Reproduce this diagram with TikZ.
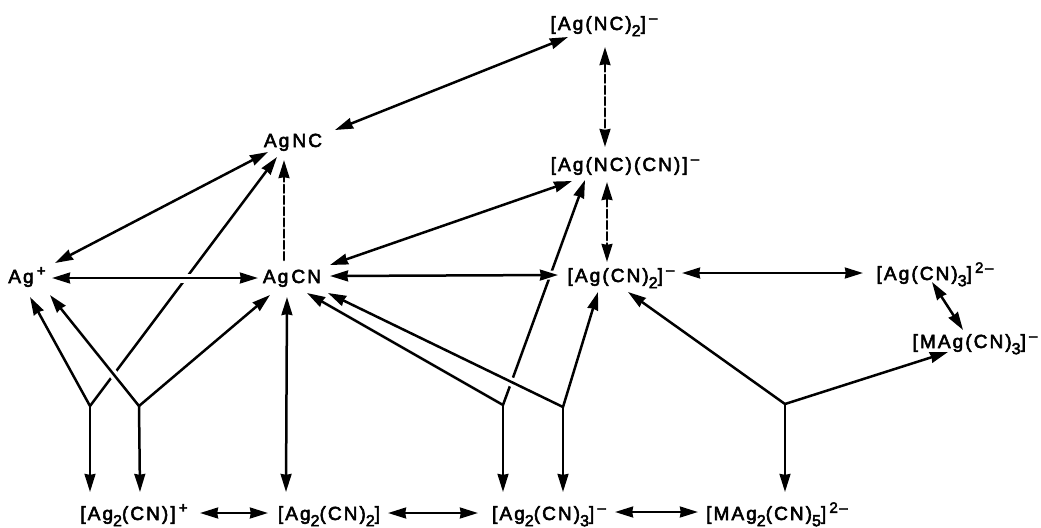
\documentclass[tikz,border=0pt]{standalone}
\usepackage{fontspec}
\newfontfamily\chemfont[LetterSpace=11,FakeBold=3]{Liberation Sans}
\usetikzlibrary{arrows.meta}
% sub- and superscripts for the formulae
\newcommand\lo[1]{\raisebox{-3.1pt}{\fontsize{8}{9}\selectfont #1}}
\newcommand\hi[1]{\,\raisebox{3.6pt}{\fontsize{7.5}{9}\selectfont #1}}

\begin{document}
\begin{tikzpicture}[x=0.5pt,y=-0.5pt,
  >={Stealth[length=9pt,width=5.4pt,inset=0.4pt]},
  species/.style={inner sep=0pt,anchor=base,font=\chemfont\fontsize{9.5}{11}\selectfont},
  link/.style={line width=1.25pt,line cap=round},
  twoway/.style={link,<->},
  oneway/.style={link,->},
  guess/.style={dash pattern=on 4pt off 1.6pt},
  over/.style={preaction={draw=white,line width=4.5pt,arrows=-,line cap=butt,
      shorten <=10pt,shorten >=#1}},
  over/.default=10pt,
]
\useasboundingbox (0,0) rectangle (1041,527);

% species
\node[species] (agp)     at (27,283)  {Ag\hi{+}};
\node[species] (agcn)    at (292,283) {Ag\,CN};
\node[species] (agnc)    at (293,147) {Ag\,NC};
\node[species] (agnc2)   at (604,30)  {[Ag(NC)\lo{2}]\hi{–}};
\node[species] (agnccn)  at (625,171) {[Ag(NC)(CN)]\hi{–}};
\node[species] (agcn2)   at (621,282) {[Ag(CN)\lo{2}]\hi{–}};
\node[species] (agcn3)   at (935,280) {[Ag(CN)\lo{3}]\hi{2–}};
\node[species] (magcn3)  at (975,348) {[MAg(CN)\lo{3}]\hi{–}};
\node[species] (ag2cn)   at (134,520) {[Ag\lo{2}(CN)]\hi{+}};
\node[species] (ag2cn2)  at (329,520) {[Ag\lo{2}(CN)\lo{2}]};
\node[species] (ag2cn3)  at (549,520) {[Ag\lo{2}(CN)\lo{3}]\hi{–}};
\node[species] (mag2cn5) at (777,520) {[MAg\lo{2}(CN)\lo{5}]\hi{2–}};

% branch points of the dimer pathways
\coordinate (j1) at (90,406);
\coordinate (j2) at (139,406);
\coordinate (j3) at (503,405);
\coordinate (j4) at (563,407);
\coordinate (j5) at (785,404);

% lines that pass underneath others
\draw[oneway] (j1) -- ([shift={(-16,10)}]agnc.base);
\draw[oneway] (j3) -- ([shift={(-40,9)}]agnccn.base);

% branches
\draw[oneway] (j1) -- ([shift={(3,14)}]agp.base);
\draw[oneway] (j1) -- ([shift={(-44,-28)}]ag2cn.base);
\draw[oneway] (j2) -- ([shift={(-22,12)}]agcn.base);
\draw[oneway] (j2) -- ([shift={(6,-28)}]ag2cn.base);
\draw[oneway] (j3) -- ([shift={(15,10)}]agcn.base);
\draw[oneway] (j3) -- ([shift={(-46,-28)}]ag2cn3.base);
\draw[oneway] (j4) -- ([shift={(-23,10)}]agcn2.base);
\draw[oneway] (j4) -- ([shift={(14,-28)}]ag2cn3.base);
\draw[oneway] (j5) -- ([shift={(7,10)}]agcn2.base);
\draw[oneway] (j5) -- ([shift={(-27,4)}]magcn3.base);
\draw[oneway] (j5) -- ([shift={(8,-28)}]mag2cn5.base);

% equilibria
\draw[twoway] ([shift={(28,-20)}]agp.base) -- ([shift={(-25,5)}]agnc.base);
\draw[twoway] ([shift={(42,-17)}]agnc.base) -- ([shift={(-36,7)}]agnc2.base);
\draw[twoway] ([shift={(38,-18)}]agcn.base) -- ([shift={(-53,10)}]agnccn.base);
\draw[twoway] ([shift={(61,-9)}]agcn2.base) -- ([shift={(-72,-7)}]agcn3.base);
\draw[twoway] ([shift={(-3,2)}]agcn3.base) -- ([shift={(-12,-18)}]magcn3.base);
\draw[twoway] ([shift={(-5,14)}]agcn.base) -- ([shift={(-43,-28)}]ag2cn2.base);
\draw[twoway] ([shift={(66,-7)}]ag2cn.base) -- ([shift={(-61,-7)}]ag2cn2.base);
\draw[twoway] ([shift={(59,-7)}]ag2cn2.base) -- ([shift={(-71,-7)}]ag2cn3.base);
\draw[twoway] ([shift={(66,-8)}]ag2cn3.base) -- ([shift={(-79,-8)}]mag2cn5.base);

% isomerisations (dashed)
\draw[oneway,guess] ([shift={(-8,-23)}]agcn.base) -- ([shift={(-9,13)}]agnc.base);
\draw[twoway,guess] ([shift={(1,17)}]agnc2.base) -- ([shift={(-20,-24)}]agnccn.base);
\draw[twoway,guess] ([shift={(-18,11)}]agnccn.base) -- ([shift={(-14,-20)}]agcn2.base);

% lines that pass over others
\draw[oneway,over] (j2) -- ([shift={(23,12)}]agp.base);
\draw[twoway,over] ([shift={(25,-5)}]agp.base) -- ([shift={(-34,-5)}]agcn.base);
\draw[oneway,over] (j4) -- ([shift={(36,10)}]agcn.base);
\draw[twoway,over=0pt] ([shift={(38,-7)}]agcn.base) -- ([shift={(-63,-7)}]agcn2.base);
\end{tikzpicture}
\end{document}
